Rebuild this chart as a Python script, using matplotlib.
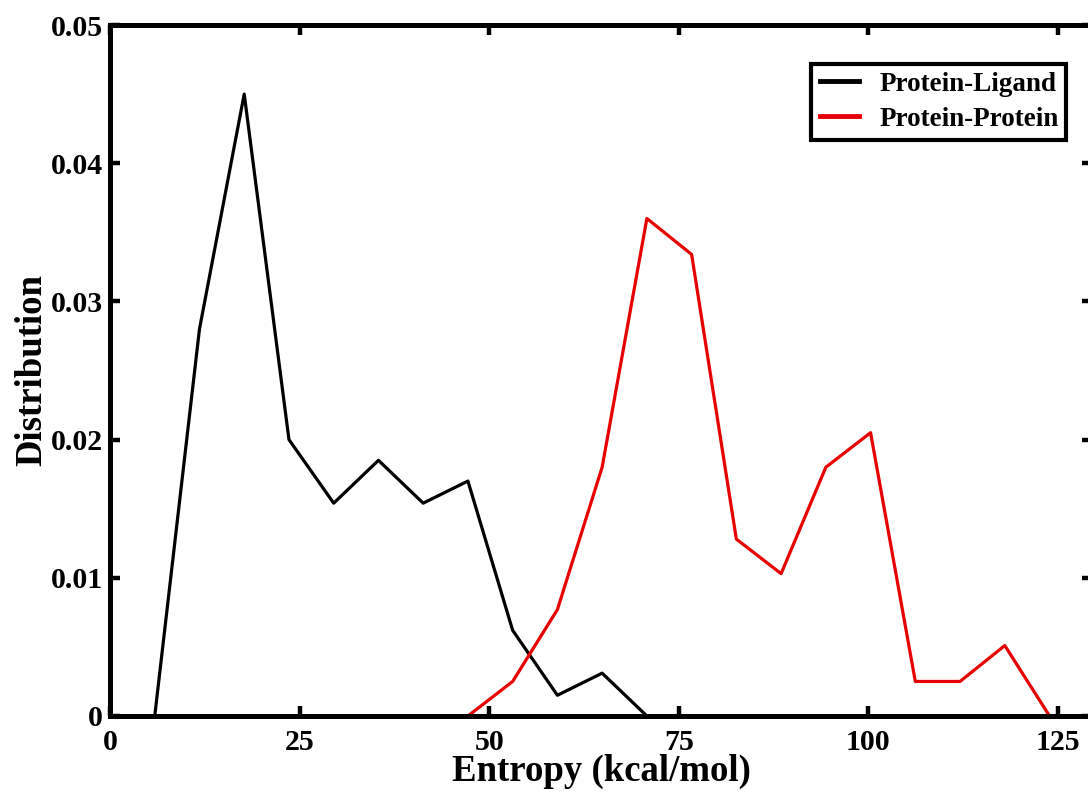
import matplotlib
matplotlib.use("Agg")
import matplotlib.pyplot as plt

# Histogram bin centres (kcal/mol) and normalised counts
ligand_entropy = [5.9, 11.8, 17.7, 23.6, 29.5, 35.4, 41.3, 47.2, 53.1, 59.0, 64.9, 70.8]
ligand_dist = [0.0, 0.0280, 0.0450, 0.0200, 0.0154, 0.0185, 0.0154, 0.0170, 0.0062, 0.0015, 0.0031, 0.0]

protein_entropy = [47.2, 53.1, 59.0, 64.9, 70.8, 76.7, 82.6, 88.5, 94.4, 100.3, 106.2, 112.1, 118.0, 123.9]
protein_dist = [0.0, 0.0025, 0.0077, 0.0180, 0.0360, 0.0334, 0.0128, 0.0103, 0.0180, 0.0205, 0.0025, 0.0025, 0.0051, 0.0]

x_ticks = [0, 25, 50, 75, 100, 125]
y_ticks = [0, 0.01, 0.02, 0.03, 0.04, 0.05]
y_tick_labels = ["0", "0.01", "0.02", "0.03", "0.04", "0.05"]

plt.rcParams["font.family"] = ["Liberation Serif", "DejaVu Serif"]
plt.rcParams["font.weight"] = "bold"

fig = plt.figure(figsize=(10.88, 7.92), dpi=100)
W, H = 1088, 792
left_px, right_px, top_px, bottom_px = 110, 1092, 25, 716
ax = fig.add_axes([left_px / W, 1 - bottom_px / H,
                   (right_px - left_px) / W, (bottom_px - top_px) / H])

ax.plot(ligand_entropy, ligand_dist, color="black", lw=2.3, label="Protein-Ligand")
ax.plot(protein_entropy, protein_dist, color="#e60000", lw=2.3, label="Protein-Protein")

ax.set_xlim(0, 129.5)
ax.set_ylim(0, 0.05)
ax.set_xticks(x_ticks)
ax.set_xticklabels([str(t) for t in x_ticks])
ax.set_yticks(y_ticks)
ax.set_yticklabels(y_tick_labels)

for sp in ax.spines.values():
    sp.set_linewidth(3.6)
ax.tick_params(direction="in", length=7, width=3.2, top=True, right=True,
               labelsize=21.5)
ax.tick_params(axis="x", pad=9)
ax.tick_params(axis="y", pad=5)
for lab in ax.get_xticklabels() + ax.get_yticklabels():
    lab.set_fontweight("bold")

ax.set_xlabel("Entropy (kcal/mol)", fontsize=26.5, fontweight="bold", labelpad=-1)
ax.set_ylabel("Distribution", fontsize=26.5, fontweight="bold", labelpad=1)

leg = ax.legend(loc="upper right", bbox_to_anchor=(0.974, 0.944),
                prop={"size": 19.5, "weight": "bold"}, frameon=True, fancybox=False,
                framealpha=1, handlelength=1.45, handletextpad=0.75, borderpad=0.3,
                labelspacing=0.36, borderaxespad=0)
leg.get_frame().set_edgecolor("black")
leg.get_frame().set_linewidth(3.0)
for line in leg.get_lines():
    line.set_linewidth(3.5)

fig.savefig("out.png", dpi=100)
